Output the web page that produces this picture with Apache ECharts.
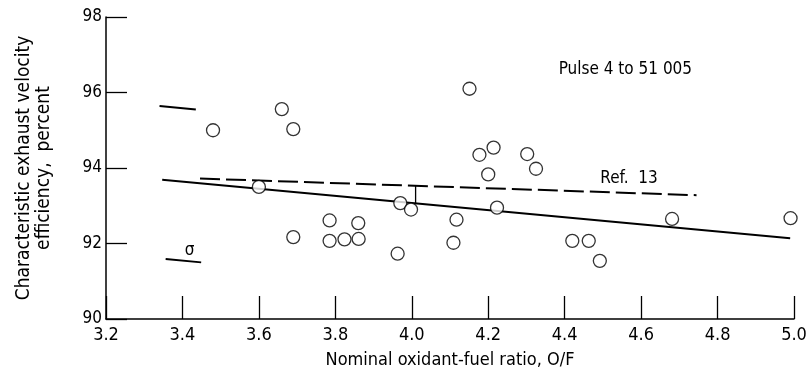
<!DOCTYPE html>
<html>
<head>
<meta charset="utf-8">
<script src="https://cdn.jsdelivr.net/npm/echarts@6/dist/echarts.min.js"></script>
<style>
  html, body { margin: 0; padding: 0; background: #fff; }
  #chart1 { width: 808px; height: 368px; }
</style>
</head>
<body>
<div id="chart1"></div>
<script>
// measured points, O/F vs c* efficiency
const ofRatio = [3.48, 3.66, 3.69, 3.69, 3.60, 3.785, 3.785, 3.824, 3.86, 3.861, 3.963, 3.97, 3.998, 4.109, 4.117, 4.151, 4.177, 4.214, 4.200, 4.223, 4.302, 4.325, 4.42, 4.463, 4.492, 4.681, 4.991]
const efficiency = [95.0, 95.56, 95.03, 92.17, 93.50, 92.61, 92.07, 92.11, 92.54, 92.12, 91.73, 93.07, 92.90, 92.02, 92.63, 96.10, 94.35, 94.54, 93.83, 92.95, 94.37, 93.98, 92.07, 92.07, 91.54, 92.65, 92.67]

// fitted line and ref. 13 curve
const fitX = [3.347, 4.99]
const fitY = [93.69, 92.14]
const ref13X = [3.446, 4.745]
const ref13Y = [93.72, 93.28]

// sigma band marks and the bracket at 4.0
const sigmaUpperX = [3.34, 3.435]
const sigmaUpperY = [95.64, 95.55]
const sigmaLowerX = [3.356, 3.449]
const sigmaLowerY = [91.59, 91.50]
const bracketX = [4.01, 4.01]
const bracketY = [93.53, 93.07]

const xTickLabels = ['3.2', '3.4', '3.6', '3.8', '4.0', '4.2', '4.4', '4.6', '4.8', '5.0']
const yTickLabels = ['90', '92', '94', '96', '98']

// annotation texts and where they sit (data coords)
const noteTexts = ['σ', 'Ref.  13', 'Pulse 4 to 51 005']
const noteX = [3.405, 4.492, 4.383]
const noteY = [91.80, 93.73, 96.60]

const font = "'DejaVu Sans Condensed', 'Liberation Sans Narrow', sans-serif"

const pairs = (xs, ys) => xs.map((x, i) => [x, ys[i]])

const getOptionChart1 = () => {
  return {
    animation: false,
    backgroundColor: '#fff',
    textStyle: { fontFamily: font, color: '#000' },
    grid: {
      left: 106,
      right: 14,
      top: 17,
      bottom: 49,
      containLabel: false,
      outerBoundsMode: 'none'
    },
    xAxis: {
      type: 'value',
      min: 3.2,
      max: 5.0,
      interval: 0.2,
      name: 'Nominal oxidant-fuel ratio, O/F',
      nameLocation: 'middle',
      nameGap: 32,
      nameTextStyle: { fontFamily: font, fontSize: 18, color: '#000' },
      axisLine: { lineStyle: { color: '#000', width: 1.5 } },
      axisTick: { inside: true, length: 23, lineStyle: { color: '#000', width: 1.3 } },
      splitLine: { show: false },
      axisLabel: {
        fontFamily: font,
        fontSize: 18,
        color: '#000',
        margin: 7,
        formatter: (v) => xTickLabels[Math.round((v - 3.2) / 0.2)]
      }
    },
    yAxis: {
      type: 'value',
      min: 90,
      max: 98,
      interval: 2,
      name: 'Characteristic exhaust velocity\nefficiency,  percent',
      nameLocation: 'middle',
      nameGap: 52,
      nameTextStyle: { fontFamily: font, fontSize: 19, color: '#000', lineHeight: 20 },
      axisLine: { show: true, lineStyle: { color: '#000', width: 1.5 } },
      axisTick: { show: true, inside: true, length: 21, lineStyle: { color: '#000', width: 1.3 } },
      splitLine: { show: false },
      axisLabel: {
        fontFamily: font,
        fontSize: 17,
        color: '#000',
        margin: 4,
        formatter: (v) => yTickLabels[Math.round((v - 90) / 2)]
      }
    },
    series: [
      {
        name: 'Fit',
        type: 'line',
        data: pairs(fitX, fitY),
        symbol: 'none',
        lineStyle: { color: '#000', width: 2 },
        z: 2
      },
      {
        name: 'Ref. 13',
        type: 'line',
        data: pairs(ref13X, ref13Y),
        symbol: 'none',
        lineStyle: { color: '#000', width: 2, type: [20, 6] },
        z: 2
      },
      {
        name: 'bracket',
        type: 'line',
        data: pairs(bracketX, bracketY),
        symbol: 'none',
        lineStyle: { color: '#000', width: 1.3 },
        z: 2
      },
      {
        name: 'sigma upper',
        type: 'line',
        data: pairs(sigmaUpperX, sigmaUpperY),
        symbol: 'none',
        lineStyle: { color: '#000', width: 2 },
        z: 2
      },
      {
        name: 'sigma lower',
        type: 'line',
        data: pairs(sigmaLowerX, sigmaLowerY),
        symbol: 'none',
        lineStyle: { color: '#000', width: 2 },
        z: 2
      },
      {
        name: 'Pulse 4 to 51 005',
        type: 'scatter',
        data: pairs(ofRatio, efficiency),
        symbol: 'circle',
        symbolSize: 13,
        itemStyle: { color: '#fff', borderColor: '#000', borderWidth: 1.3 },
        z: 5
      },
      {
        name: 'notes',
        type: 'scatter',
        symbol: 'circle',
        symbolSize: 1,
        silent: true,
        itemStyle: { color: 'rgba(0,0,0,0)' },
        data: noteTexts.map((t, i) => ({ value: [noteX[i], noteY[i]], name: t })),
        label: {
          show: true,
          position: 'right',
          distance: 0,
          formatter: (p) => p.name,
          fontFamily: font,
          fontSize: 17,
          color: '#000',
          opacity: 1,
          textBorderWidth: 0
        },
        z: 6
      }
    ]
  }
}

const initChart1 = () => {
  const chart1 = echarts.init(document.getElementById('chart1'))
  chart1.setOption(getOptionChart1())
}

if (typeof window !== 'undefined') {
  initChart1()
}
</script>
</body>
</html>
